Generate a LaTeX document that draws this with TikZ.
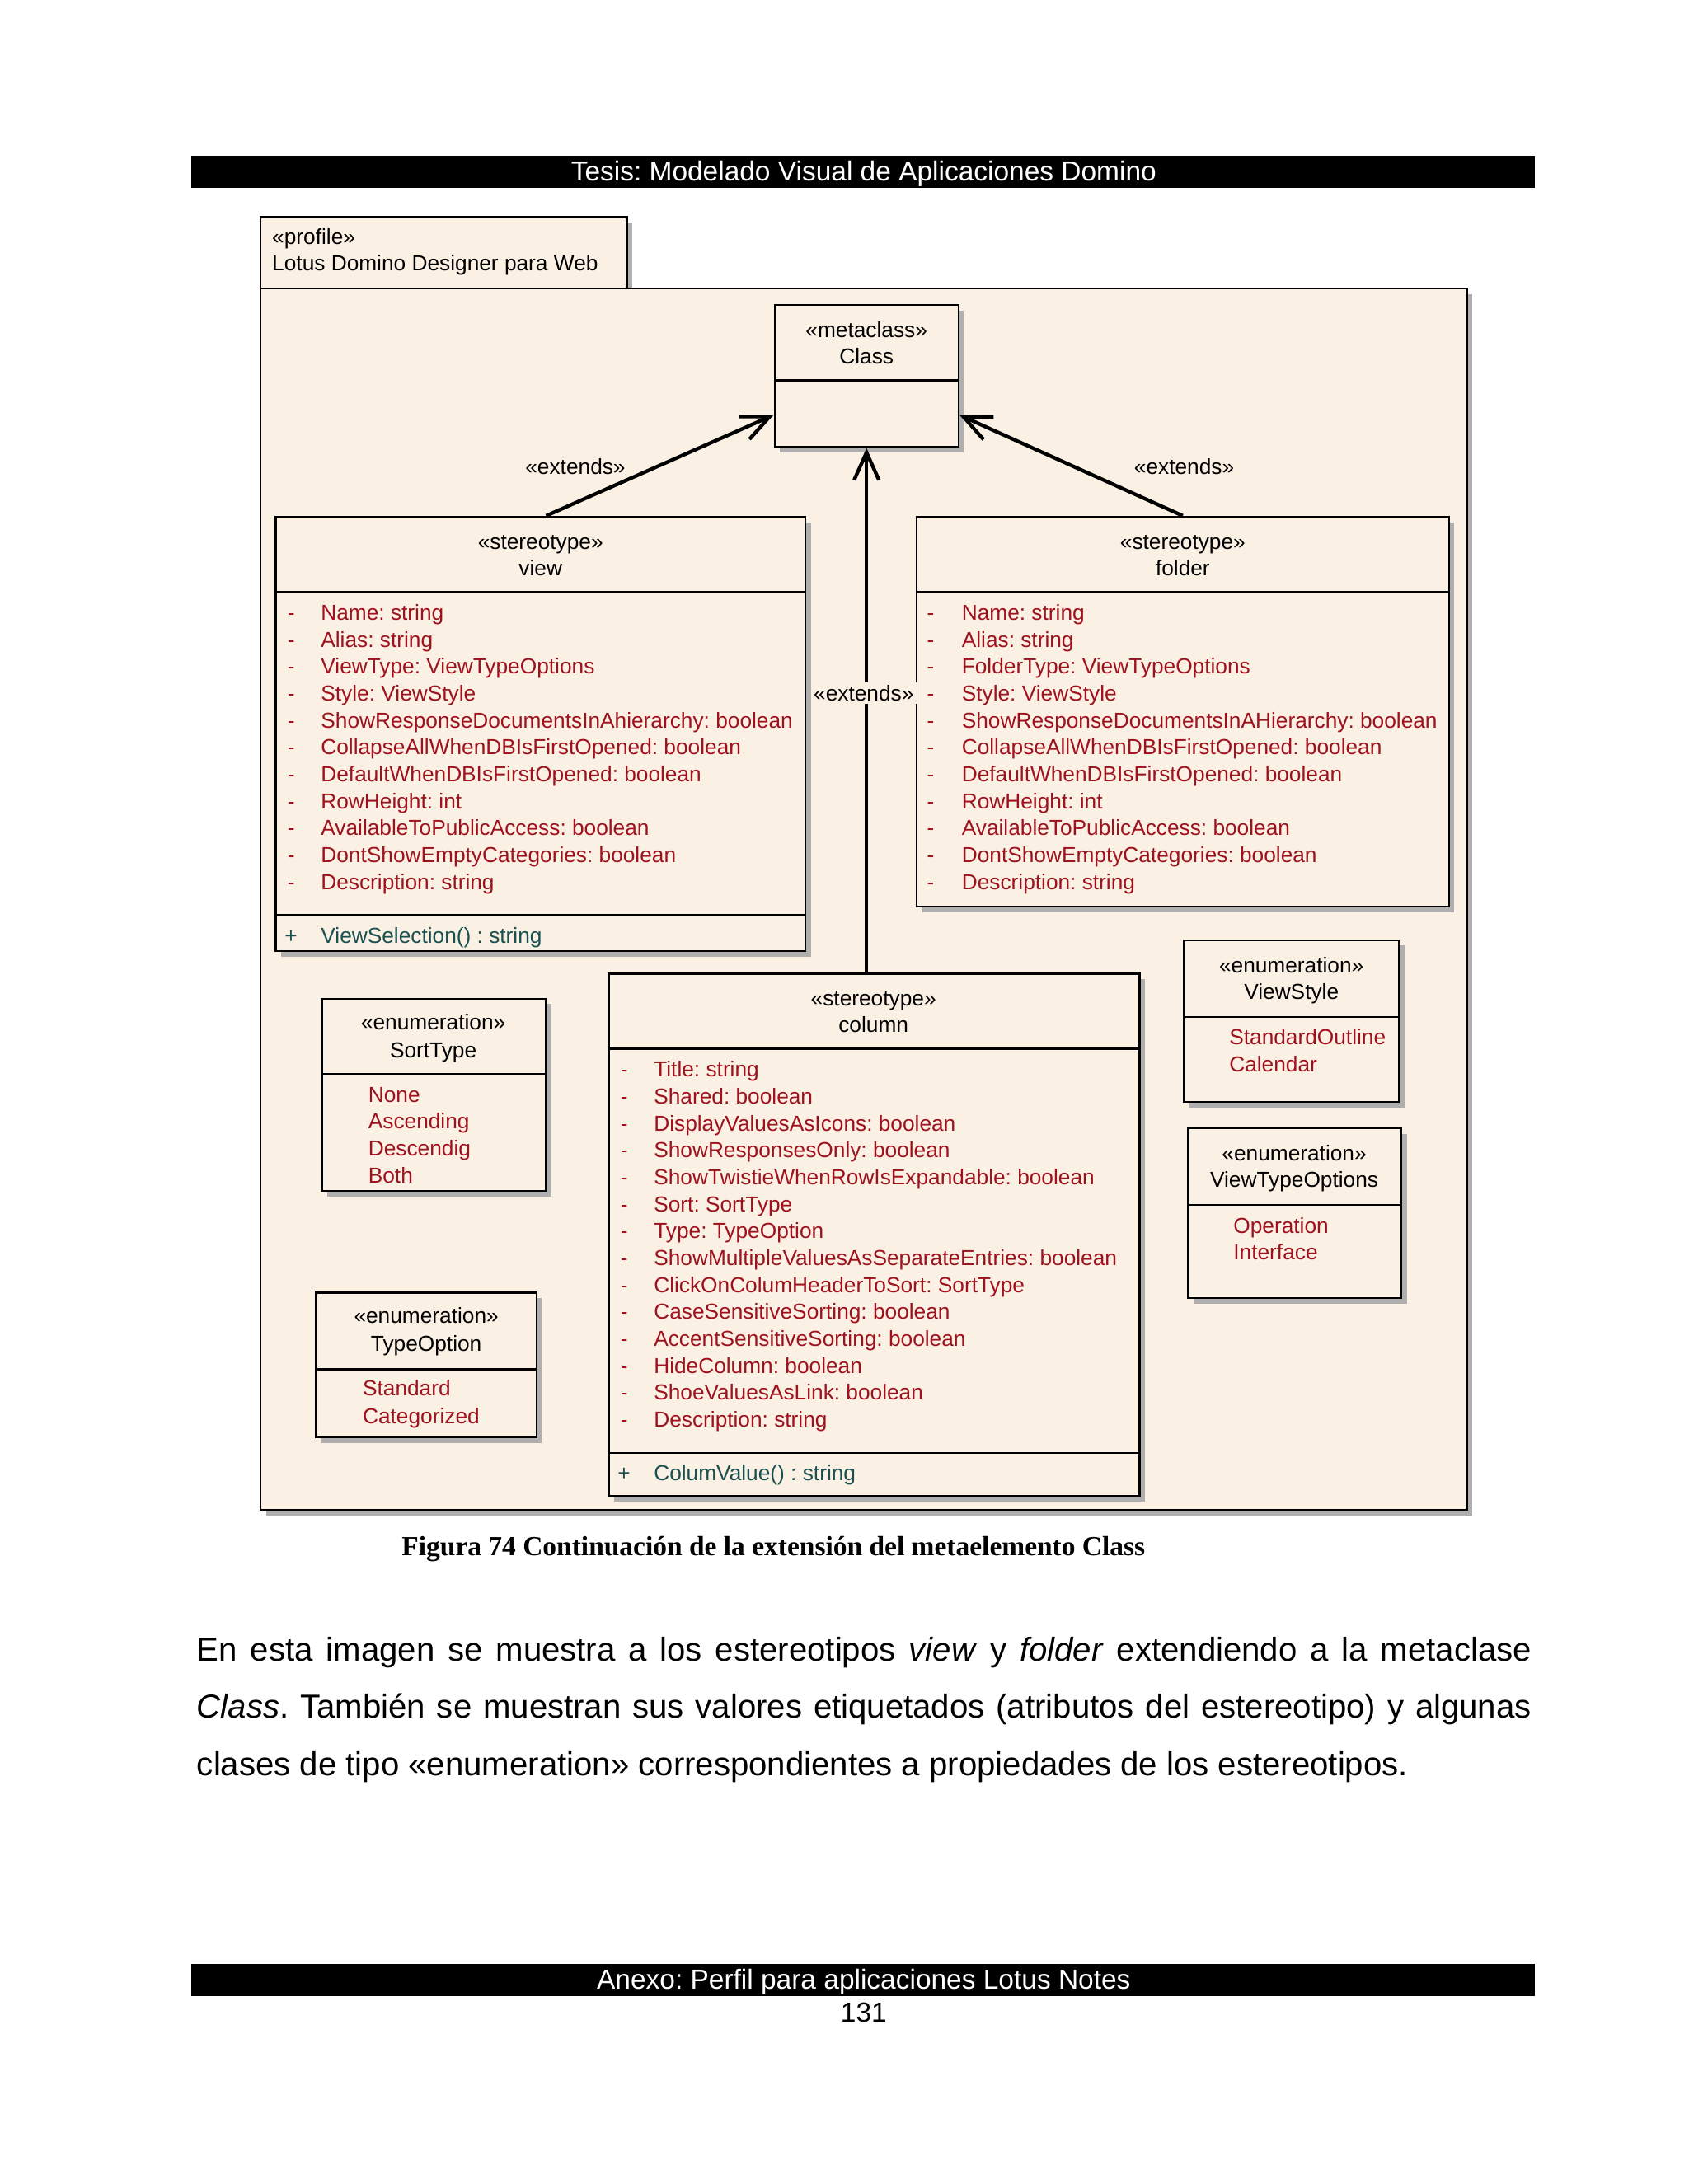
\documentclass[tikz,border=0pt]{standalone}
\usepackage{fontspec}
\setmainfont{Liberation Sans}
\newfontfamily\capfont{Liberation Serif}
\usetikzlibrary{arrows.meta,shadows,fit,calc}
\definecolor{boxbg}{RGB}{251,240,228}
\definecolor{attrred}{RGB}{158,18,30}
\definecolor{opteal}{RGB}{25,80,80}
\definecolor{shadowgray}{RGB}{175,175,175}
\newcommand{\umlfont}{\fontsize{7.85}{9.4}\selectfont}
\frenchspacing
\begin{document}
\frenchspacing
\begin{tikzpicture}[x=0.50495pt,y=-0.50495pt,
  umlbox/.style={draw=black, line width=0.7pt, fill=boxbg, inner sep=0pt,
    drop shadow={shadow xshift=2pt, shadow yshift=-2pt, fill=shadowgray, opacity=1}},
  attr/.style={font=\umlfont, text=attrred, inner sep=0pt, anchor=mid west},
  oper/.style={font=\umlfont, text=opteal, inner sep=0pt, anchor=mid west},
  ttl/.style={font=\umlfont, text=black, inner sep=0pt, anchor=mid},
  lbl/.style={font=\umlfont, text=black, inner sep=1pt, anchor=mid},
  extarrow/.style={line width=1.3pt, -{Straight Barb[length=10pt,width=9pt,line width=1.3pt]}},
  divline/.style={line width=0.7pt}
]
\path[use as bounding box, fill=white] (0,0) rectangle (1212,1568);

% header and footer
\fill[black] (137,112) rectangle (1102,135);
\node[anchor=base, inner sep=0pt, text=white, font=\fontsize{10}{12}\selectfont] (hdr) at (620,130) {Tesis: Modelado Visual de Aplicaciones Domino};
\fill[black] (137,1410) rectangle (1102,1433);
\node[anchor=base, inner sep=0pt, text=white, font=\fontsize{10}{12}\selectfont] (ftr) at (620,1428) {Anexo: Perfil para aplicaciones Lotus Notes};
\node[anchor=base, inner sep=0pt, font=\fontsize{10}{12}\selectfont] (pgno) at (620,1452) {131};

% profile package
\node[umlbox, fit={(187,156) (450,207)}] (tab) {};
\node[umlbox, fit={(187,207) (1053,1084)}] (frame) {};
\node[attr, text=black] (pf1) at (195,170) {«profile»};
\node[attr, text=black] (pf2) at (195,189) {Lotus Domino Designer para Web};

% Class metaclass
\node[umlbox, fit={(556,219) (688,321)}] (cls) {};
\draw[divline] (556,273) -- (688,273);
\node[ttl] (clsS) at (622,237) {«metaclass»};
\node[ttl] (clsN) at (622,256) {Class};

% view
\node[umlbox, fit={(198,371) (578,683)}] (view) {};
\draw[divline] (198,425) -- (578,425);
\draw[divline] (198,657) -- (578,657);
\node[ttl] (viewS) at (388,389) {«stereotype»};
\node[ttl] (viewN) at (388,408) {view};
\foreach \t [count=\i from 0] in {Name: string, Alias: string, ViewType: ViewTypeOptions, Style: ViewStyle, ShowResponseDocumentsInAhierarchy: boolean, CollapseAllWhenDBIsFirstOpened: boolean, DefaultWhenDBIsFirstOpened: boolean, RowHeight: int, AvailableToPublicAccess: boolean, DontShowEmptyCategories: boolean, Description: string}{
  \node[attr] (vd\i) at (206,{440+\i*19.33}) {-};
  \node[attr] (va\i) at (230,{440+\i*19.33}) {\t};
}
\node[oper] (vop) at (204,672) {+};
\node[oper] (vo) at (230,672) {ViewSelection() : string};

% folder
\node[umlbox, fit={(658,371) (1040,651)}] (folder) {};
\draw[divline] (658,425) -- (1040,425);
\node[ttl] (folderS) at (849,389) {«stereotype»};
\node[ttl] (folderN) at (849,408) {folder};
\foreach \t [count=\i from 0] in {Name: string, Alias: string, FolderType: ViewTypeOptions, Style: ViewStyle, ShowResponseDocumentsInAHierarchy: boolean, CollapseAllWhenDBIsFirstOpened: boolean, DefaultWhenDBIsFirstOpened: boolean, RowHeight: int, AvailableToPublicAccess: boolean, DontShowEmptyCategories: boolean, Description: string}{
  \node[attr] (fd\i) at (665,{440+\i*19.33}) {-};
  \node[attr] (fa\i) at (690,{440+\i*19.33}) {\t};
}

% column
\node[umlbox, fit={(437,699) (818,1074)}] (column) {};
\draw[divline] (437,753) -- (818,753);
\draw[divline] (437,1043) -- (818,1043);
\node[ttl] (colS) at (627,717) {«stereotype»};
\node[ttl] (colN) at (627,736) {column};
\foreach \t [count=\i from 0] in {Title: string, Shared: boolean, DisplayValuesAsIcons: boolean, ShowResponsesOnly: boolean, ShowTwistieWhenRowIsExpandable: boolean, Sort: SortType, Type: TypeOption, ShowMultipleValuesAsSeparateEntries: boolean, ClickOnColumHeaderToSort: SortType, CaseSensitiveSorting: boolean, AccentSensitiveSorting: boolean, HideColumn: boolean, ShoeValuesAsLink: boolean, Description: string}{
  \node[attr] (cd\i) at (445,{768+\i*19.33}) {-};
  \node[attr] (ca\i) at (469,{768+\i*19.33}) {\t};
}
\node[oper] (cop) at (443,1058) {+};
\node[oper] (co) at (469,1058) {ColumValue() : string};

% SortType
\node[umlbox, fit={(231,717) (392,855)}] (sort) {};
\draw[divline] (231,771) -- (392,771);
\node[ttl] (sortS) at (311,734) {«enumeration»};
\node[ttl] (sortN) at (311,754) {SortType};
\foreach \t [count=\i from 0] in {None, Ascending, Descendig, Both}{
  \node[attr] (sa\i) at (264,{786+\i*19.33}) {\t};
}

% TypeOption
\node[umlbox, fit={(227,928) (385,1032)}] (topt) {};
\draw[divline] (227,983) -- (385,983);
\node[ttl] (toptS) at (306,945) {«enumeration»};
\node[ttl] (toptN) at (306,965) {TypeOption};
\node[attr] (ta0) at (260,997) {Standard};
\node[attr] (ta1) at (260,1017) {Categorized};

% ViewStyle
\node[umlbox, fit={(850,675) (1004,791)}] (vstyle) {};
\draw[divline] (850,730) -- (1004,730);
\node[ttl] (vstyleS) at (927,693) {«enumeration»};
\node[ttl] (vstyleN) at (927,712) {ViewStyle};
\node[attr] (vsa0) at (882,745) {StandardOutline};
\node[attr] (vsa1) at (882,764) {Calendar};

% ViewTypeOptions
\node[umlbox, fit={(853,810) (1006,932)}] (vtopt) {};
\draw[divline] (853,865) -- (1006,865);
\node[ttl] (vtoptS) at (929,828) {«enumeration»};
\node[ttl] (vtoptN) at (929,847) {ViewTypeOptions};
\node[attr] (vta0) at (885,880) {Operation};
\node[attr] (vta1) at (885,899) {Interface};

% extends connectors
\draw[extarrow] ($(view.north)+(4,0)$) -- ($(cls.south west)!0.23!(cls.north west)$);
\draw[extarrow] (folder.north) -- ($(cls.south east)!0.23!(cls.north east)$);
\draw[extarrow] (column.north -| cls.south) -- (cls.south);
\node[lbl] (e1) at (413,335) {«extends»};
\node[lbl] (e2) at (850,335) {«extends»};
\node[lbl, fill=boxbg] (e3) at (620,498) {«extends»};

% caption
\node[anchor=base west, inner sep=0pt, font=\capfont\bfseries\fontsize{10}{12}\selectfont] (cap) at (288,1117) {Figura 74 Continuación de la extensión del metaelemento Class};

% body text
\node[anchor=north west, inner sep=0pt, text width=483.7pt, align=justify, font=\fontsize{12}{20.7}\selectfont] (body) at (141,1175) {En esta imagen se muestra a los estereotipos \textit{view} y \textit{folder} extendiendo a la metaclase\linebreak \textit{Class}. También se muestran sus valores etiquetados (atributos del estereotipo) y algunas\linebreak clases de tipo «enumeration» correspondientes a propiedades de los estereotipos.};
\end{tikzpicture}
\end{document}
